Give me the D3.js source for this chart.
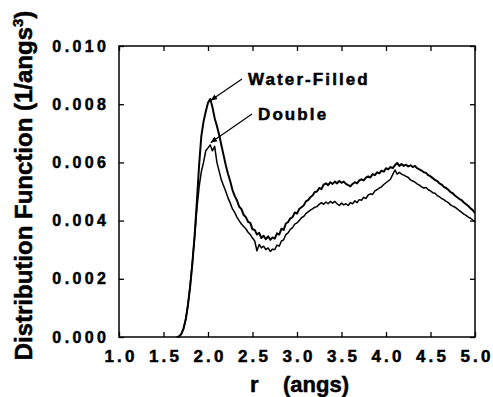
<!DOCTYPE html>
<html>
<head>
<meta charset="utf-8">
<script src="https://cdn.jsdelivr.net/npm/d3@7"></script>
<style>
  body { margin: 0; background: #fff; }
  svg text { font-family: "Liberation Sans", Arial, sans-serif; font-weight: bold; fill: #000; stroke: #000; stroke-width: 0.5px; }
</style>
</head>
<body>
<div id="chart"></div>
<script>
// r grid (angs), shared by both curves
const rVals = [
  1.650,1.675,1.700,1.725,1.750,1.775,1.800,1.825,1.850,1.875,1.900,1.925,1.950,1.975,
  2.000,2.025,2.050,2.075,2.100,2.125,2.150,2.175,2.200,2.225,2.250,2.275,2.300,2.325,2.350,2.375,
  2.400,2.425,2.450,2.475,2.500,2.525,2.550,2.575,2.600,2.625,2.650,2.675,2.700,2.725,2.750,2.775,
  2.800,2.825,2.850,2.875,2.900,2.925,2.950,2.975,3.000,3.025,3.050,3.075,3.100,3.125,3.150,3.175,
  3.200,3.225,3.250,3.275,3.300,3.325,3.350,3.375,3.400,3.425,3.450,3.475,3.500,3.525,3.550,3.575,
  3.600,3.625,3.650,3.675,3.700,3.725,3.750,3.775,3.800,3.825,3.850,3.875,3.900,3.925,3.950,3.975,
  4.000,4.025,4.050,4.075,4.100,4.125,4.150,4.175,4.200,4.225,4.250,4.275,4.300,4.325,4.350,4.375,
  4.400,4.425,4.450,4.475,4.500,4.525,4.550,4.575,4.600,4.625,4.650,4.675,4.700,4.725,4.750,4.775,
  4.800,4.825,4.850,4.875,4.900,4.925,4.950,4.975,5.000
];

const waterFilled = [
  0,0.00002,0.00010,0.00028,0.00060,0.00110,0.00175,0.00255,0.00350,0.00465,0.00590,0.00690,0.00740,0.00775,
  0.00805,0.00818,0.00790,0.00752,0.00725,0.00695,0.00660,0.00625,0.00590,0.00560,0.00535,0.00505,0.00485,0.00470,0.00448,0.00440,
  0.00420,0.00412,0.00396,0.00392,0.00370,0.00368,0.00352,0.00358,0.00340,0.00348,0.00336,0.00346,0.00334,0.00342,0.00338,0.00356,
  0.00352,0.00372,0.00368,0.00390,0.00395,0.00408,0.00412,0.00428,0.00424,0.00440,0.00446,0.00452,0.00466,0.00470,0.00480,0.00486,
  0.00498,0.00500,0.00512,0.00508,0.00524,0.00528,0.00522,0.00532,0.00526,0.00534,0.00528,0.00536,0.00530,0.00534,0.00526,0.00522,
  0.00518,0.00526,0.00532,0.00528,0.00538,0.00542,0.00538,0.00548,0.00552,0.00548,0.00560,0.00556,0.00566,0.00562,0.00572,0.00568,
  0.00580,0.00576,0.00584,0.00580,0.00590,0.00598,0.00588,0.00594,0.00588,0.00592,0.00586,0.00590,0.00584,0.00588,0.00580,0.00576,
  0.00572,0.00566,0.00564,0.00556,0.00552,0.00546,0.00540,0.00536,0.00528,0.00524,0.00516,0.00512,0.00506,0.00498,0.00494,0.00486,
  0.00480,0.00474,0.00470,0.00462,0.00456,0.00450,0.00442,0.00436,0.00426
];

const double = [
  0,0.00002,0.00010,0.00030,0.00062,0.00112,0.00178,0.00258,0.00345,0.00440,0.00515,0.00568,0.00600,0.00640,
  0.00650,0.00660,0.00640,0.00655,0.00600,0.00570,0.00540,0.00520,0.00500,0.00478,0.00460,0.00440,0.00428,0.00412,0.00400,0.00388,
  0.00380,0.00372,0.00360,0.00352,0.00340,0.00330,0.00296,0.00318,0.00306,0.00312,0.00300,0.00306,0.00294,0.00302,0.00300,0.00316,
  0.00312,0.00330,0.00334,0.00352,0.00358,0.00370,0.00376,0.00388,0.00392,0.00400,0.00410,0.00414,0.00424,0.00430,0.00436,0.00440,
  0.00446,0.00448,0.00456,0.00462,0.00456,0.00464,0.00458,0.00466,0.00460,0.00466,0.00458,0.00452,0.00460,0.00454,0.00458,0.00452,
  0.00462,0.00458,0.00468,0.00462,0.00472,0.00470,0.00480,0.00476,0.00488,0.00492,0.00490,0.00502,0.00506,0.00512,0.00516,0.00524,
  0.00530,0.00536,0.00542,0.00558,0.00574,0.00560,0.00566,0.00560,0.00556,0.00552,0.00548,0.00540,0.00536,0.00532,0.00526,0.00522,
  0.00516,0.00512,0.00514,0.00506,0.00502,0.00496,0.00494,0.00486,0.00482,0.00476,0.00472,0.00466,0.00462,0.00454,0.00450,0.00446,
  0.00440,0.00434,0.00428,0.00422,0.00418,0.00412,0.00408,0.00402,0.00396
];

const xTicks = [1.0, 1.5, 2.0, 2.5, 3.0, 3.5, 4.0, 4.5, 5.0];
const yTicks = [0.000, 0.002, 0.004, 0.006, 0.008, 0.010];

// annotations: label, r and value of the arrow tip
const labels = ['Water-Filled', 'Double'];
const labelTipR = [2.01, 2.01];
const labelTipV = [0.00817, 0.00672];

// layout
const W = 493, H = 397;
const m = {left: 119, top: 46, right: 18, bottom: 60};
const w = W - m.left - m.right;
const h = H - m.top - m.bottom;

const x = d3.scaleLinear().domain([1.0, 5.0]).range([0, w]);
const y = d3.scaleLinear().domain([0, 0.010]).range([h, 0]);

const svg = d3.select('#chart').append('svg')
    .attr('width', W)
    .attr('height', H);

svg.append('defs').append('marker')
    .attr('id', 'arr')
    .attr('viewBox', '0 0 10 10')
    .attr('refX', 9).attr('refY', 5)
    .attr('markerWidth', 7).attr('markerHeight', 7)
    .attr('markerUnits', 'userSpaceOnUse')
    .attr('orient', 'auto')
  .append('path')
    .attr('d', 'M0,1 L10,5 L0,9 Z')
    .attr('fill', '#000');

const g = svg.append('g').attr('transform', `translate(${m.left},${m.top})`);

//axes, ticks pointing in
const fmt = d3.format('.3f');
const xAxis = g.append('g')
    .attr('transform', `translate(0,${h})`)
    .call(d3.axisBottom(x).tickValues(xTicks).tickFormat(d3.format('.1f')).tickSize(-5).tickPadding(13));
const yAxis = g.append('g')
    .call(d3.axisLeft(y).tickValues(yTicks).tickFormat(fmt).tickSize(-5).tickPadding(13));
g.append('g')
    .call(d3.axisTop(x).tickValues(xTicks).tickSize(-5).tickFormat(''));
g.append('g')
    .attr('transform', `translate(${w},0)`)
    .call(d3.axisRight(y).tickValues(yTicks).tickSize(-5).tickFormat(''));

g.selectAll('.domain').remove();
g.selectAll('.tick line').attr('stroke', '#000').attr('stroke-width', 1.3);
xAxis.selectAll('text')
    .style('font-size', '17px')
    .style('letter-spacing', '3.2px')
    .attr('dx', '1.5px');
yAxis.selectAll('text')
    .style('font-size', '16px')
    .style('letter-spacing', '3.4px')
    .attr('dx', '3.4px');

//frame
g.append('rect')
    .attr('width', w)
    .attr('height', h)
    .attr('fill', 'none')
    .attr('stroke', '#000')
    .attr('stroke-width', 1.5);

//curves
const line = (vals) => d3.line()
    .x((d, i) => x(rVals[i]))
    .y(d => y(d))(vals);

g.append('path')
    .attr('d', line(double))
    .attr('fill', 'none')
    .attr('stroke', '#000')
    .attr('stroke-width', 1.5)
    .attr('stroke-linejoin', 'round');

g.append('path')
    .attr('d', line(waterFilled))
    .attr('fill', 'none')
    .attr('stroke', '#000')
    .attr('stroke-width', 2)
    .attr('stroke-linejoin', 'round');

//annotations
const labelPos = [[129, 39], [139, 74]];
labels.forEach((t, i) => {
    const [lx, ly] = labelPos[i];
    g.append('text')
        .attr('x', lx)
        .attr('y', ly)
        .style('font-size', '17px')
        .style('letter-spacing', '2.1px')
        .text(t);
    g.append('line')
        .attr('x1', lx - 6).attr('y1', ly - 6)
        .attr('x2', x(labelTipR[i]) + 2).attr('y2', y(labelTipV[i]) + 1)
        .attr('stroke', '#000')
        .attr('stroke-width', 1.2)
        .attr('marker-end', 'url(#arr)');
});

//axis titles
svg.append('text')
    .attr('transform', `translate(32,${m.top + h / 2 - 6}) rotate(-90)`)
    .attr('text-anchor', 'middle')
    .style('font-size', '24px')
    .text('Distribution Function (1/angs')
  .call(t => {
      t.append('tspan').attr('dy', '-9').style('font-size', '15px').text('3');
      t.append('tspan').attr('dy', '9').text(')');
  });

svg.append('text')
    .attr('x', 250)
    .attr('y', 392)
    .style('font-size', '22px')
    .attr('xml:space', 'preserve')
    .text('r    (angs)');
</script>
</body>
</html>
